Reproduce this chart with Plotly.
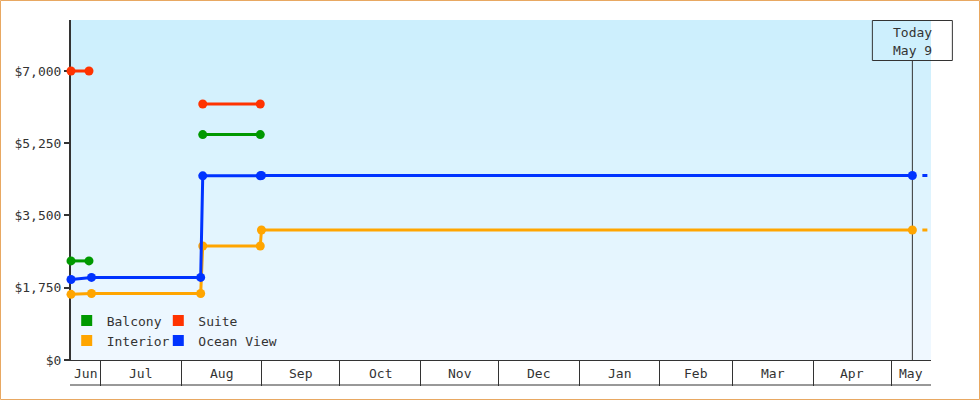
import plotly.graph_objects as go
import pandas as pd

# ---------------- data ----------------
RANGE_START = "2024-06-19 14:00"
RANGE_END = "2025-05-16 08:00"
TODAY = "2025-05-09 04:00"
TODAY_LABEL = "Today<br>May 9"

month_labels = ["Jun", "Jul", "Aug", "Sep", "Oct", "Nov", "Dec", "Jan", "Feb", "Mar", "Apr", "May"]
month_starts = ["2024-06-01", "2024-07-01", "2024-08-01", "2024-09-01", "2024-10-01", "2024-11-01",
                "2024-12-01", "2025-01-01", "2025-02-01", "2025-03-01", "2025-04-01", "2025-05-01"]

y_tick_vals = [0, 1750, 3500, 5250, 7000]
y_tick_text = ["$0", "$1,750", "$3,500", "$5,250", "$7,000"]

balcony_dates = ["2024-06-19 14:00", "2024-06-26 12:00", None, "2024-08-09 06:00", "2024-08-31 09:00"]
balcony_prices = [2400, 2400, None, 5460, 5460]

suite_dates = ["2024-06-19 14:00", "2024-06-26 12:00", None, "2024-08-09 06:00", "2024-08-31 09:00"]
suite_prices = [7000, 7000, None, 6200, 6200]

interior_dates = ["2024-06-19 14:00", "2024-06-27 11:00", "2024-08-08 11:00", "2024-08-09 06:00",
                  "2024-08-31 09:00", "2024-08-31 20:00", "2025-05-09 04:00"]
interior_prices = [1590, 1610, 1610, 2760, 2760, 3150, 3150]

ocean_dates = ["2024-06-19 14:00", "2024-06-27 11:00", "2024-08-08 11:00", "2024-08-09 06:00",
               "2024-08-31 09:00", "2024-08-31 20:00", "2025-05-09 04:00"]
ocean_prices = [1950, 2000, 2000, 4460, 4460, 4470, 4470]

# ---------------- styles ----------------
FONT = "DejaVu Sans Mono"
INK = "#333333"
COLORS = {"Balcony": "#009900", "Suite": "#FF3300", "Interior": "#FFA500", "Ocean View": "#0033FF"}

fig = go.Figure()

series = [
    ("Balcony", balcony_dates, balcony_prices, False),
    ("Suite", suite_dates, suite_prices, False),
    ("Interior", interior_dates, interior_prices, True),
    ("Ocean View", ocean_dates, ocean_prices, True),
]

for name, xs, ys, projected in series:
    c = COLORS[name]
    fig.add_trace(go.Scatter(
        x=xs, y=ys, mode="lines+markers", name=name, showlegend=False,
        line=dict(color=c, width=3), marker=dict(color=c, size=9, symbol="circle"),
        connectgaps=False, cliponaxis=False, hoverinfo="skip"))
    if projected:
        fig.add_trace(go.Scatter(
            x=[xs[-1], RANGE_END], y=[ys[-1], ys[-1]], mode="lines", showlegend=False,
            line=dict(color=c, width=3, dash="0px,10px,5px,100px"), hoverinfo="skip"))

# ---------------- layout geometry ----------------
W, H = 980, 400
ML, MR, MT, MB = 71, 49, 20, 40
PW, PH = W - ML - MR, H - MT - MB


def px_x(px):
    return (px - ML) / PW


def px_y(py):
    return (H - MB - py) / PH


# legend-only entries: 2 x 2 grid, one legend per entry
legend_slots = {"Balcony": ("legend", 66.7, 320.5), "Suite": ("legend2", 158.3, 320.5),
                "Interior": ("legend3", 66.7, 340.5), "Ocean View": ("legend4", 158.3, 340.5)}
for name in ["Balcony", "Suite", "Interior", "Ocean View"]:
    fig.add_trace(go.Scatter(
        x=[None], y=[None], mode="markers", name=name, legend=legend_slots[name][0],
        marker=dict(color=COLORS[name], size=11, symbol="square")))

rs, re_ = pd.Timestamp(RANGE_START), pd.Timestamp(RANGE_END)
today_frac = (pd.Timestamp(TODAY) - rs) / (re_ - rs)

shapes = []
# gradient plot background
top = (204, 239, 253)
bot = (240, 248, 255)
N = 34
for i in range(N):
    t = i / (N - 1)
    col = tuple(round(top[k] + (bot[k] - top[k]) * t) for k in range(3))
    shapes.append(dict(type="rect", xref="paper", yref="paper", x0=0, x1=1,
                       y0=1 - (i + 1) / N, y1=1 - i / N, layer="below",
                       line=dict(width=0), fillcolor="rgb(%d,%d,%d)" % col))

# today line
shapes.append(dict(type="line", xref="x", yref="paper", x0=TODAY, x1=TODAY,
                   y0=0, y1=px_y(60.7), line=dict(color=INK, width=1), layer="below"))
# today box (paper-referenced so it is not clipped by the plot area)
shapes.append(dict(type="rect", xref="paper", yref="paper", xsizemode="pixel", ysizemode="pixel",
                   xanchor=today_frac, x0=-40, x1=40, yanchor=px_y(40.5), y0=-20, y1=20,
                   line=dict(color=INK, width=1), fillcolor="rgba(0,0,0,0)"))
# bottom line of month band
shapes.append(dict(type="line", xref="paper", yref="paper", x0=px_x(70), x1=1,
                   y0=px_y(385), y1=px_y(385), line=dict(color=INK, width=1)))
# outer border
shapes.append(dict(type="rect", xref="paper", yref="paper",
                   x0=px_x(0.5), x1=px_x(979.5), y0=px_y(399.5), y1=px_y(0.5),
                   line=dict(color="#E8A862", width=1), fillcolor="rgba(0,0,0,0)"))

annotations = []
# month labels centred in the visible part of each month
starts = [pd.Timestamp(s) for s in month_starts]
for i, lab in enumerate(month_labels):
    a = max(starts[i], rs)
    b = min(starts[i + 1] if i + 1 < len(starts) else re_, re_)
    mid = a + (b - a) / 2
    annotations.append(dict(x=mid, xref="x", y=px_y(373), yref="paper", text=lab,
                            showarrow=False, xanchor="center", yanchor="middle",
                            font=dict(family=FONT, size=13, color=INK)))

tl = TODAY_LABEL.split("<br>")
annotations.append(dict(x=TODAY, xref="x", y=px_y(32.5), yref="paper", text=tl[0], showarrow=False,
                        xanchor="center", yanchor="middle", font=dict(family=FONT, size=13, color=INK)))
annotations.append(dict(x=TODAY, xref="x", y=px_y(50.5), yref="paper", text=tl[1], showarrow=False,
                        xanchor="center", yanchor="middle", font=dict(family=FONT, size=13, color=INK)))

legend_common = dict(orientation="h", xanchor="left", yanchor="middle",
                     bgcolor="rgba(0,0,0,0)", borderwidth=0,
                     font=dict(family=FONT, size=13, color=INK), traceorder="normal")
legends = {}
for name, (key, lx, ly) in legend_slots.items():
    legends[key] = dict(legend_common, x=px_x(lx), y=px_y(ly))

fig.update_layout(
    width=W, height=H, autosize=False,
    margin=dict(l=ML, r=MR, t=MT, b=MB, pad=0),
    paper_bgcolor="white", plot_bgcolor="white",
    font=dict(family=FONT, size=13, color=INK),
    showlegend=True,
    shapes=shapes, annotations=annotations,
    hovermode=False,
    xaxis=dict(type="date", range=[RANGE_START, RANGE_END], tickvals=month_starts[1:],
               showticklabels=False, ticks="outside", ticklen=25, tickwidth=1, tickcolor=INK,
               showline=True, linecolor=INK, linewidth=1, showgrid=False, zeroline=False,
               layer="below traces"),
    yaxis=dict(range=[0, 8235], tickvals=y_tick_vals, ticktext=y_tick_text,
               ticks="outside", ticklen=5, tickwidth=2, tickcolor=INK,
               showline=True, linecolor=INK, linewidth=2, showgrid=False, zeroline=False,
               tickfont=dict(family=FONT, size=13, color=INK), layer="below traces"),
    **legends,
)

fig.write_html("out.html", config={"displayModeBar": False},
               post_script="document.body.style.margin='0';document.body.style.overflow='hidden';")
